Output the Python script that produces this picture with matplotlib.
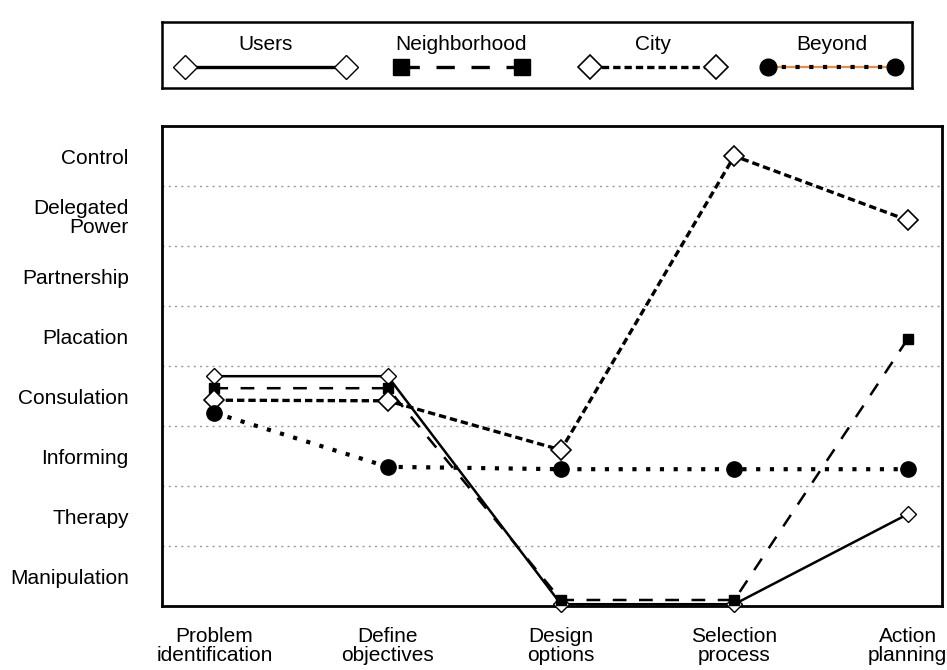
import matplotlib
matplotlib.use("Agg")
import matplotlib.pyplot as plt

plt.rcParams['font.family'] = ['Liberation Sans', 'DejaVu Sans']

# data
stages = ["Problem\nidentification", "Define\nobjectives", "Design\noptions",
          "Selection\nprocess", "Action\nplanning"]
levels = ["Manipulation", "Therapy", "Informing", "Consulation", "Placation",
          "Partnership", "Delegated\nPower", "Control"]
users = [4.33, 4.33, 0.53, 0.53, 2.03]
neighborhood = [4.13, 4.13, 0.60, 0.60, 4.95]
city = [3.93, 3.92, 3.10, 8.00, 6.93]
beyond = [3.72, 2.82, 2.78, 2.78, 2.78]

# styles for each series
series = [
    ("Users", users, dict(color="black", lw=1.8, ls="-", marker="D", ms=8,
                          mfc="white", mec="black", mew=1.0)),
    ("Neighborhood", neighborhood, dict(color="black", lw=1.8, ls=(0, (5.5, 5)),
                                        marker="s", ms=7, mfc="black", mec="black")),
    ("City", city, dict(color="black", lw=2.4, ls=(0, (2.2, 1.2)), marker="D", ms=10,
                        mfc="white", mec="black", mew=1.2)),
    ("Beyond", beyond, dict(color="black", lw=3, ls=(0, (1, 2.3)), marker="o", ms=11,
                            mfc="black", mec="black")),
]
# the legend draws bigger markers and slightly heavier lines
legend_ms = {"Users": 12, "Neighborhood": 11, "City": 12, "Beyond": 12}
legend_lw = {"Users": 2.4, "Neighborhood": 2.4, "City": 2.4, "Beyond": 3}
# where each legend sample starts/ends inside the legend box (fraction of width)
legend_span = {"Users": (0.03, 0.245), "Neighborhood": (0.318, 0.48),
               "City": (0.57, 0.738), "Beyond": (0.808, 0.977)}

fig = plt.figure(figsize=(9.47, 6.70), dpi=100)
ax = fig.add_axes([162/947, 1-606/670, 780/947, 480/670])

x = list(range(len(stages)))
for name, vals, st in series:
    ax.plot(x, vals, clip_on=False, zorder=3, **st)

ax.set_xlim(-0.302, 4.198)
ax.set_ylim(0.5, 8.5)
ax.set_xticks(x)
ax.set_xticklabels(stages, fontsize=15, linespacing=1.0)
ax.set_yticks(range(1, len(levels)+1))
ax.set_yticklabels(levels, fontsize=15, linespacing=1.0)
ax.tick_params(axis="both", length=0)
ax.tick_params(axis="y", pad=24)
ax.tick_params(axis="x", pad=15)
for k in range(1, len(levels)):
    ax.axhline(k + 0.5, color="#999999", lw=1, ls=(0, (1.5, 3)), zorder=1)
for s in ax.spines.values():
    s.set_linewidth(2)

# legend box above the chart, labels above the handles
lax = fig.add_axes([162/947, 1-88/670, 750/947, 66/670])
lax.set_xlim(0, 1)
lax.set_ylim(0, 1)
lax.set_xticks([])
lax.set_yticks([])
for s in lax.spines.values():
    s.set_linewidth(1.8)
for name, vals, st in series:
    x0, x1 = legend_span[name]
    lst = dict(st, ms=legend_ms[name], lw=legend_lw[name])
    if name == "Beyond":
        lax.plot([x0, x1], [0.32, 0.32], color="#f08a40", lw=1.6, zorder=1)
    lax.plot([x0, x1], [0.32, 0.32], zorder=2, **lst)
    lax.text((x0 + x1) / 2, 0.66, name, ha="center", va="center", fontsize=15)

fig.savefig("out.png", dpi=100)
